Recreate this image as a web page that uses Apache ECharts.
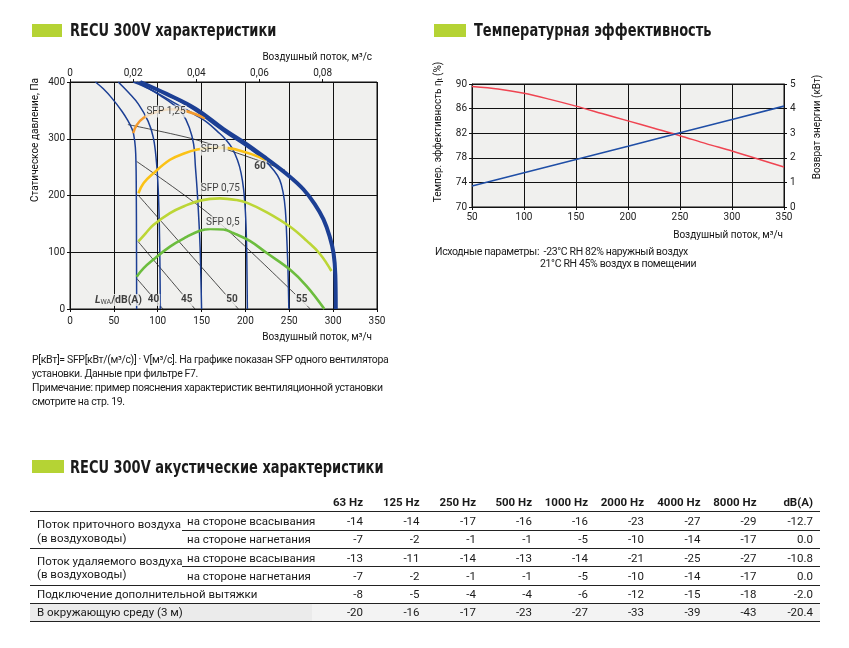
<!DOCTYPE html>
<html>
<head>
<meta charset="utf-8">
<script src="https://cdn.jsdelivr.net/npm/echarts@6/dist/echarts.min.js"></script>
<style>
  body { margin: 0; background: #fff; font-family: Roboto, "Noto Sans", sans-serif; color: #1a1a1a; }
  #page { position: relative; width: 849px; height: 648px; overflow: hidden; }
  #chart { position: absolute; left: 0; top: 0; width: 849px; height: 648px; }
  .abs { position: absolute; white-space: nowrap; }
  .mark { position: absolute; background: #b5d334; }
  .title { font-family: "DejaVu Sans Condensed", sans-serif; font-weight: bold; font-size: 17px; line-height: 17px;
           color: #1a1a1a; transform: scaleX(0.85); transform-origin: 0 50%; }
  .note { font-size: 10.5px; line-height: 14px; letter-spacing: -0.35px; }
  .cell { position: absolute; font-size: 11.5px; line-height: 14px; white-space: nowrap; }
  .num { text-align: right; width: 50px; }
  .hd { font-weight: bold; }
  .rule { position: absolute; height: 1px; background: #222; }
</style>
</head>
<body>
<div id="page">
  <div id="chart"></div>

  <div class="mark" style="left:32px;top:24px;width:30px;height:13px"></div>
  <div class="abs title" style="left:70px;top:22px">RECU 300V характеристики</div>
  <div class="mark" style="left:434px;top:24px;width:32px;height:13px"></div>
  <div class="abs title" style="left:474px;top:22px">Температурная эффективность</div>

  <div class="abs note" style="left:32px;top:353px">
    P[кВт]= SFP[кВт/(м³/с)] · V[м³/с]. На графике показан SFP одного вентилятора<br>
    установки. Данные при фильтре F7.<br>
    Примечание: пример пояснения характеристик вентиляционной установки<br>
    смотрите на стр. 19.
  </div>

  <div class="abs note" style="left:435px;top:245px">Исходные параметры:&nbsp; -23°C RH 82% наружный воздух</div>
  <div class="abs note" style="left:540px;top:257px">21°C RH 45% воздух в помещении</div>

  <div class="mark" style="left:32px;top:460px;width:32px;height:13px"></div>
  <div class="abs title" style="left:70px;top:459px">RECU 300V акустические характеристики</div>

  <div id="table"></div>
</div>

<script>
// ---------- RECU 300V: fan curves (x = m³/h, y = Pa) ----------
const fanSpeed1 = [[29,400],[38,388],[47.5,372],[59,349],[66,332],[70.5,318],[72.5,308],[74.5,285],[75.3,250],[75.6,200],[75.8,120],[76,0]];
const fanSpeed2 = [[55,400],[67,381],[78,361],[89,331],[95,302],[98.5,260],[100.5,213],[101.8,150],[102.5,80],[103,0]];
const fanSpeed3 = [[72,400],[90,388],[105,374],[118,360],[128,345],[136,320],[141,290],[143,250],[144.8,213],[146.8,160],[148.3,110],[149.3,50],[150,0]];
const fanSpeed4 = [[76,400],[100,380],[125,358],[145,340],[157,328],[168,313],[178,298],[185,283],[191,262],[195,240],[198,210],[200,170],[201.2,120],[201.8,60],[202.2,0]];
const fanSpeed5 = [[79,400],[110,378],[140,352],[175,313],[205,282],[222,262],[232,245],[239,228],[243,205],[245.5,175],[247,130],[248.5,70],[249.5,0]];
const fanMax = [[80,400],[110,379],[143,353],[175,317],[200,292],[224,265],[250,234],[266,211],[279,185],[289,158],[296,128],[300.5,98],[302.5,60],[303,0]];

const sfp125 = [[72,310],[76,324],[84,337],[100,348],[115,352],[129,350],[142,344],[154,336]];
const sfp100 = [[78,204],[84,222],[95,239],[114,263],[130,274],[145,281],[160,284],[177,284],[200,276],[215,268],[226,260]];
const sfp075 = [[78,119],[86,133],[95,148],[114,169],[130,181],[148,191],[171,195],[190,192],[202,187],[225,170],[251,145],[270,120],[285,97],[298,67]];
const sfp050 = [[76,57],[84,72],[95,87],[114,110],[133,127],[148,138],[160,141],[175,140],[186,134],[205,120],[224,99],[251,69],[270,40],[290,0]];

const noise40 = [[76,54],[106,0]];
const noise45 = [[77.5,119],[142.5,0]];
const noise50 = [[77.5,201],[192,0]];
const noise55 = [[76,260],[162,163],[274,0]];
const noise60 = [[66,325],[142,299],[207,266],[245,245]];

// text labels anchored at their left-middle point
const sfpLabels = [[86,348,'SFP 1,25'],[148,281,'SFP 1'],[148,212,'SFP 0,75'],[154,153,'SFP 0,5']];
const noiseLabels = [[209,251,'60'],[87.5,16,'40'],[125.5,16,'45'],[177,16,'50'],[256.5,16,'55']];

// ---------- temperature efficiency ----------
const flowSteps = [50,75,100,125,150,175,200,225,250,275,300,325,350];
const efficiency = [89.6,89.2,88.5,87.5,86.4,85.2,84.0,82.8,81.6,80.3,79.1,77.8,76.5];
const recoveryFlow = [50,100,150,200,250,300,350];
const recoveryKw = [0.85,1.39,1.93,2.47,3.02,3.56,4.1];

// ---------- acoustics ----------
const bands = ['63 Hz','125 Hz','250 Hz','500 Hz','1000 Hz','2000 Hz','4000 Hz','8000 Hz','dB(A)'];
const supplyIntake = ['-14','-14','-17','-16','-16','-23','-27','-29','-12.7'];
const supplyOutlet = ['-7','-2','-1','-1','-5','-10','-14','-17','0.0'];
const exhaustIntake = ['-13','-11','-14','-13','-14','-21','-25','-27','-10.8'];
const exhaustOutlet = ['-7','-2','-1','-1','-5','-10','-14','-17','0.0'];
const extraExhaust = ['-8','-5','-4','-4','-6','-12','-15','-18','-2.0'];
const surroundings = ['-20','-16','-17','-23','-27','-33','-39','-43','-20.4'];

const BLUE = '#1c3f94';
const INK = '#111';
const PLOT_BG = '#f0f0ee';
const FONT = 'Roboto';

function curve(data, color, width) {
  return {
    type: 'line', xAxisIndex: 0, yAxisIndex: 0, data: data,
    smooth: 0.4, symbol: 'none', silent: true,
    lineStyle: { color: color, width: width }
  };
}
function straight(data) {
  return {
    type: 'line', xAxisIndex: 0, yAxisIndex: 0, data: data,
    smooth: 0.3, symbol: 'none', silent: true,
    lineStyle: { color: '#222', width: 0.8 }
  };
}
function textSeries(items, bold) {
  return {
    type: 'scatter', xAxisIndex: 0, yAxisIndex: 0, symbolSize: 0, silent: true, z: 10,
    data: items.map(it => ({ value: [it[0], it[1]], name: it[2] })),
    label: {
      show: true, position: 'right', distance: 0, formatter: p => p.name,
      fontFamily: FONT, fontSize: 10, fontWeight: bold ? 'bold' : 'normal', color: INK,
      backgroundColor: PLOT_BG, padding: [1, 1]
    }
  };
}

const axisLine = { show: true, lineStyle: { color: INK, width: 1 } };
const tick = { show: true, length: 3, lineStyle: { color: INK } };
const split = { show: true, lineStyle: { color: INK, width: 1 } };
const lbl = { fontFamily: FONT, fontSize: 10, color: '#222' };

const chart = echarts.init(document.getElementById('chart'), null, { renderer: 'canvas' });
chart.setOption({
  animation: false,
  grid: [
    { left: 70, top: 82, width: 307, height: 227, show: true, backgroundColor: PLOT_BG, borderColor: INK, borderWidth: 1 },
    { left: 472, top: 84, width: 312, height: 123, show: true, backgroundColor: PLOT_BG, borderColor: INK, borderWidth: 1 }
  ],
  xAxis: [
    { gridIndex: 0, type: 'value', min: 0, max: 350, interval: 50, axisLine, axisTick: tick, splitLine: split,
      axisLabel: Object.assign({ margin: 7 }, lbl) },
    { gridIndex: 0, type: 'value', position: 'top', min: 0, max: 350 / 3600, interval: 0.02, axisLine, axisTick: tick,
      splitLine: { show: false },
      axisLabel: Object.assign({ margin: 4, showMaxLabel: false,
        formatter: v => v === 0 ? '0' : v.toFixed(2).replace('.', ',') }, lbl) },
    { gridIndex: 1, type: 'value', min: 50, max: 350, interval: 50, axisLine, axisTick: tick, splitLine: split,
      axisLabel: Object.assign({ margin: 5 }, lbl) }
  ],
  yAxis: [
    { gridIndex: 0, type: 'value', min: 0, max: 400, interval: 100, axisLine, axisTick: tick, splitLine: split,
      axisLabel: Object.assign({ margin: 5 }, lbl) },
    { gridIndex: 1, type: 'value', min: 70, max: 90, interval: 4, axisLine, axisTick: tick, splitLine: split,
      axisLabel: Object.assign({ margin: 5 }, lbl) },
    { gridIndex: 1, type: 'value', position: 'right', min: 0, max: 5, interval: 1, axisLine, axisTick: tick,
      splitLine: { show: false }, axisLabel: Object.assign({ margin: 6 }, lbl) }
  ],
  series: [
    straight(noise40), straight(noise45), straight(noise50), straight(noise55), straight(noise60),
    curve(fanSpeed1, BLUE, 1.5), curve(fanSpeed2, BLUE, 1.5), curve(fanSpeed3, BLUE, 1.5),
    curve(fanSpeed4, BLUE, 1.5), curve(fanSpeed5, BLUE, 1.5),
    curve(sfp050, '#6cbd3e', 2.6), curve(sfp075, '#bcd636', 2.6),
    curve(sfp100, '#fbc216', 2.6), curve(sfp125, '#f39a2e', 2.6),
    curve(fanMax, BLUE, 4),
    textSeries(sfpLabels, false),
    textSeries(noiseLabels, true),
    {
      type: 'scatter', xAxisIndex: 0, yAxisIndex: 0, symbolSize: 0, silent: true, z: 10,
      data: [{ value: [28.5, 16] }],
      label: {
        show: true, position: 'right', distance: 0, backgroundColor: PLOT_BG,
        formatter: '{i|L}{s|WA}{n|/dB(A)}',
        rich: {
          i: { fontFamily: FONT, fontSize: 10.5, fontStyle: 'italic', fontWeight: 'bold', color: INK },
          s: { fontFamily: FONT, fontSize: 7, color: INK, padding: [5, 0, 0, 0] },
          n: { fontFamily: FONT, fontSize: 10.5, fontWeight: 'bold', color: INK }
        }
      }
    },
    {
      type: 'line', xAxisIndex: 2, yAxisIndex: 1, symbol: 'none', smooth: 0.3, silent: true,
      data: flowSteps.map((x, i) => [x, efficiency[i]]),
      lineStyle: { color: '#ef4451', width: 1.5 }
    },
    {
      type: 'line', xAxisIndex: 2, yAxisIndex: 2, symbol: 'none', silent: true,
      data: recoveryFlow.map((x, i) => [x, recoveryKw[i]]),
      lineStyle: { color: '#1f4ea6', width: 1.6 }
    }
  ],
  graphic: [
    { type: 'text', x: 35, y: 140, rotation: Math.PI / 2,
      style: { text: 'Статическое давление, Па', fontFamily: FONT, fontSize: 10, fill: INK, textAlign: 'center', textVerticalAlign: 'middle' } },
    { type: 'text', x: 372, y: 57,
      style: { text: 'Воздушный поток, м³/с', fontFamily: FONT, fontSize: 10, fill: INK, textAlign: 'right', textVerticalAlign: 'middle' } },
    { type: 'text', x: 372, y: 337,
      style: { text: 'Воздушный поток, м³/ч', fontFamily: FONT, fontSize: 10, fill: INK, textAlign: 'right', textVerticalAlign: 'middle' } },
    { type: 'text', x: 438, y: 132, rotation: Math.PI / 2,
      style: { rich: { t: { fontSize: 7, padding: [5, 0, 0, 0] } }, text: 'Темпер. эффективность η{t|t} (%)', fontFamily: FONT, fontSize: 10, fill: INK, textAlign: 'center', textVerticalAlign: 'middle' } },
    { type: 'text', x: 817, y: 127, rotation: Math.PI / 2,
      style: { text: 'Возврат энергии (кВт)', fontFamily: FONT, fontSize: 10, fill: INK, textAlign: 'center', textVerticalAlign: 'middle' } },
    { type: 'text', x: 783, y: 235,
      style: { text: 'Воздушный поток, м³/ч', fontFamily: FONT, fontSize: 10, fill: INK, textAlign: 'right', textVerticalAlign: 'middle' } }
  ]
});

// ---------- acoustic table ----------
const TABLE = document.getElementById('table');
const colRight = [363, 419.5, 476, 532, 588, 644, 700.5, 756.5, 813];
const rowY = [521, 539, 558, 576, 594, 612];
const rowValues = [supplyIntake, supplyOutlet, exhaustIntake, exhaustOutlet, extraExhaust, surroundings];
const subLabels = ['на стороне всасывания', 'на стороне нагнетания', 'на стороне всасывания', 'на стороне нагнетания'];

function put(text, x, y, cls, right) {
  const d = document.createElement('div');
  d.className = 'cell ' + (cls || '');
  d.textContent = text;
  d.style.top = (y - 7) + 'px';
  if (right) { d.style.left = (x - 50) + 'px'; d.classList.add('num'); }
  else d.style.left = x + 'px';
  TABLE.appendChild(d);
}
function rule(x1, x2, y) {
  const d = document.createElement('div');
  d.className = 'rule';
  d.style.left = x1 + 'px'; d.style.width = (x2 - x1) + 'px'; d.style.top = y + 'px';
  TABLE.appendChild(d);
}
function shade(x1, x2, y1, y2, color) {
  const d = document.createElement('div');
  d.style.cssText = `position:absolute;left:${x1}px;width:${x2 - x1}px;top:${y1}px;height:${y2 - y1}px;background:${color}`;
  TABLE.appendChild(d);
}

shade(30, 312, 603, 621, '#ebebeb');
shade(312, 820, 603, 621, '#f3f3f3');
[511, 548, 585, 603, 621].forEach(y => rule(30, 820, y));
[530, 566].forEach(y => rule(182, 820, y));

bands.forEach((b, i) => put(b, colRight[i], 502, 'hd', true));
rowValues.forEach((vals, r) => vals.forEach((v, i) => put(v, colRight[i], rowY[r], '', true)));
subLabels.forEach((t, r) => put(t, 187, rowY[r]));
put('Поток приточного воздуха', 37, 524);
put('(в воздуховоды)', 37, 538);
put('Поток удаляемого воздуха', 37, 561);
put('(в воздуховоды)', 37, 574);
put('Подключение дополнительной  вытяжки', 37, 594);
put('В окружающую среду (3 м)', 37, 612);
</script>
</body>
</html>
